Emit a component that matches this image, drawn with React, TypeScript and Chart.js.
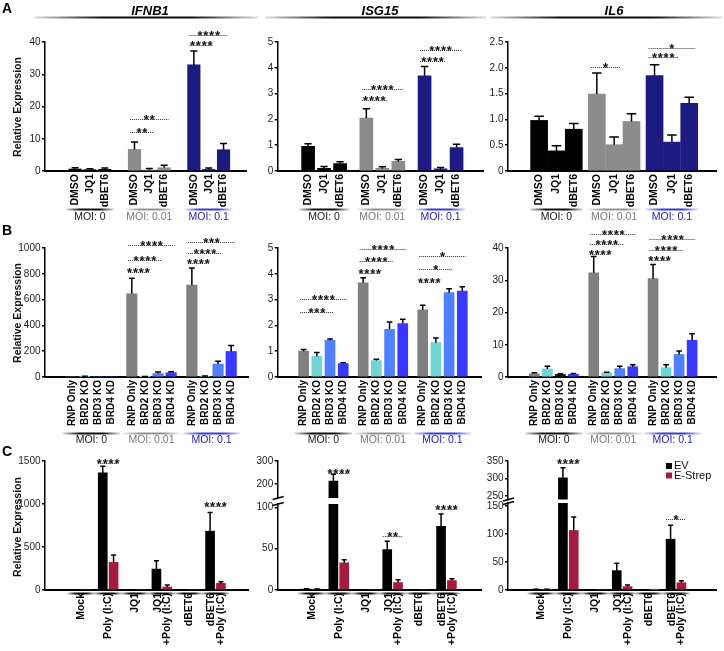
import React, { useEffect, useRef } from 'react';
import { Chart, registerables } from 'chart.js';

Chart.register(...registerables);

const W = 724;
const H = 651;
const FONT = "'Liberation Sans', Arial, Helvetica, sans-serif";

// ---------------- labels ----------------
const GENES = ['IFNB1', 'ISG15', 'IL6'];
const PANEL_LETTERS = ['A', 'B', 'C'];
const MOI_LABELS = ['MOI: 0', 'MOI: 0.01', 'MOI: 0.1'];
const A_CONDITIONS = ['DMSO', 'JQ1', 'dBET6'];
const B_CONDITIONS = ['RNP Only', 'BRD2 KO', 'BRD3 KO', 'BRD4 KD'];
const C_TREATMENTS: string[][] = [['Mock'], ['Poly (I:C)'], ['JQ1'], ['JQ1', '+Poly (I:C)'], ['dBET6'], ['dBET6', '+Poly (I:C)']];
const C_SERIES = ['EV', 'E-Strep'];
const Y_TITLE = 'Relative Expression';

type Sig = [number, number, number, string];
type PairSig = [number, number, string];

// ---------------- row A data ----------------
const IFNB1_A_MEAN = [0.6, 0.4, 0.5, 6.7, 0.3, 1.0, 32.9, 0.5, 6.6];
const IFNB1_A_SD = [0.4, 0.3, 0.4, 2.3, 0.5, 0.8, 4.3, 0.4, 1.9];
const IFNB1_A_TICKS = [0, 10, 20, 30, 40];
const IFNB1_A_SIG: Sig[] = [[3, 4, 12.0, '**'], [3, 5, 16.25, '**'], [6, 7, 39.0, '****'], [6, 8, 42.1, '****']];

const ISG15_A_MEAN = [0.96, 0.1, 0.29, 2.05, 0.1, 0.37, 3.69, 0.08, 0.91];
const ISG15_A_SD = [0.1, 0.07, 0.07, 0.36, 0.06, 0.08, 0.36, 0.06, 0.13];
const ISG15_A_TICKS = [0, 1, 2, 3, 4, 5];
const ISG15_A_SIG: Sig[] = [[3, 4, 2.77, '****'], [3, 5, 3.18, '****'], [6, 7, 4.25, '****'], [6, 8, 4.7, '****']];

const IL6_A_MEAN = [0.98, 0.39, 0.81, 1.49, 0.51, 0.96, 1.85, 0.56, 1.31];
const IL6_A_SD = [0.08, 0.1, 0.11, 0.41, 0.15, 0.15, 0.21, 0.14, 0.12];
const IL6_A_TICKS = [0, 0.5, 1, 1.5, 2, 2.5];
const IL6_A_TICK_LABELS = ['0', '0.5', '1.0', '1.5', '2.0', '2.5'];
const IL6_A_SIG: Sig[] = [[3, 4, 2.02, '*'], [6, 7, 2.2, '****'], [6, 8, 2.39, '*']];

// ---------------- row B data ----------------
const IFNB1_B_MEAN = [0, 4, 0, 0, 645, 2, 27, 33, 712, 5, 100, 198];
const IFNB1_B_SD = [0, 2, 0, 0, 120, 1, 11, 7, 133, 2, 22, 47];
const IFNB1_B_TICKS = [0, 200, 400, 600, 800, 1000];
const IFNB1_B_SIG: Sig[] = [[4, 5, 812, '****'], [4, 6, 910, '****'], [4, 7, 1024, '****'], [8, 9, 885, '****'], [8, 10, 962, '****'], [8, 11, 1049, '***']];

const ISG15_B_MEAN = [1.0, 0.8, 1.42, 0.52, 3.65, 0.64, 1.85, 2.07, 2.6, 1.33, 3.27, 3.33];
const ISG15_B_SD = [0.07, 0.15, 0.05, 0.03, 0.2, 0.05, 0.28, 0.17, 0.18, 0.18, 0.15, 0.17];
const ISG15_B_TICKS = [0, 1, 2, 3, 4, 5];
const ISG15_B_SIG: Sig[] = [[0, 2, 2.53, '***'], [0, 3, 3.02, '****'], [4, 5, 4.05, '****'], [4, 6, 4.51, '****'], [4, 7, 4.97, '****'], [8, 9, 3.7, '****'], [8, 10, 4.18, '*'], [8, 11, 4.7, '*']];

const IL6_B_MEAN = [1.0, 2.5, 0.8, 0.85, 32.3, 1.3, 2.6, 3.2, 30.5, 2.9, 7.0, 11.4];
const IL6_B_SD = [0.3, 0.8, 0.2, 0.2, 5.1, 0.2, 0.7, 0.6, 4.4, 0.9, 1.1, 2.0];
const IL6_B_TICKS = [0, 10, 20, 30, 40];
const IL6_B_SIG: Sig[] = [[4, 5, 38.2, '****'], [4, 6, 41.2, '****'], [4, 7, 44.4, '****'], [8, 9, 36.3, '****'], [8, 10, 39.5, '****'], [8, 11, 42.8, '****']];

// ---------------- row C data ----------------
const IFNB1_C_EV = [0, 1361, 0, 243, 0, 684];
const IFNB1_C_EV_SD = [0, 77, 0, 97, 0, 216];
const IFNB1_C_ES = [0, 321, 0, 35, 0, 77];
const IFNB1_C_ES_SD = [0, 85, 0, 23, 0, 18];
const IFNB1_C_TICKS = [0, 500, 1000, 1500];
const IFNB1_C_SIG: PairSig[] = [[1, 1475, '****'], [5, 975, '****']];

const ISG15_C_EV = [1, 213, 0, 49, 0, 77];
const ISG15_C_EV_SD = [0.5, 30, 0, 10, 0, 15];
const ISG15_C_ES = [1, 33, 0, 9, 0, 11.5];
const ISG15_C_ES_SD = [0.3, 3.5, 0, 3.5, 0, 2];
const ISG15_C_TICKS_LOW = [0, 50, 100];
const ISG15_C_TICKS_HIGH = [200, 300];
const ISG15_C_SIG: PairSig[] = [[1, 250, '****'], [3, 65.6, '**'], [5, 97.5, '****']];

const IL6_C_EV = [1, 302, 0, 34.5, 0, 90.5];
const IL6_C_EV_SD = [0.5, 29, 0, 13, 0, 25];
const IL6_C_ES = [1, 106, 0, 6, 0.5, 13];
const IL6_C_ES_SD = [0.3, 24, 0, 3, 0, 3.5];
const IL6_C_TICKS_LOW = [0, 50, 100, 150];
const IL6_C_TICKS_HIGH = [250, 300, 350];
const IL6_C_SIG: PairSig[] = [[1, 343.5, '****'], [5, 126, '*']];

// ---------------- styles ----------------
const A_GROUP_COLORS = ['#000000', '#8c8c8c', '#1d1a82'];
const B_COND_COLORS = ['#808080', '#72d5d5', '#5080ff', '#3838ff'];
const C_COLORS = ['#000000', '#a31b3d'];
const MOI_TEXT_COLORS = ['#1a1a1a', '#7a7a7a', '#2323b5'];
const MOI_LINE_RGB = [[0, 0, 0], [140, 140, 140], [50, 50, 205]];

interface YSeg { min: number; max: number; top: number; bottom: number; ticks: number[]; labels: string[]; }
interface GroupGeo { axisX: number; right: number; firstPx: number; slot: number; gap: number; barW: number; }
interface PairGeo { axisX: number; right: number; firstPx: number; slot: number; barW: number; pairOff: number; }
interface Spec {
  axisX: number; right: number; seg: YSeg; showX: boolean;
  xMin: number; xMax: number; xTicks: number[]; xLabels: (string | string[])[]; xFont: number; xLine: number;
  datasets: any[];
  draw: (chart: any) => void;
}

const seg = (min: number, max: number, top: number, bottom: number, ticks: number[], labels?: string[]): YSeg =>
  ({ min, max, top, bottom, ticks, labels: labels || ticks.map(String) });

// ---------------- drawing helpers ----------------
function gradLine(ctx: CanvasRenderingContext2D, x1: number, x2: number, y: number, rgb: number[], lw: number) {
  const [r, g, b] = rgb;
  const gr = ctx.createLinearGradient(x1, 0, x2, 0);
  gr.addColorStop(0, `rgba(${r},${g},${b},0.12)`);
  gr.addColorStop(0.3, `rgba(${r},${g},${b},0.95)`);
  gr.addColorStop(0.7, `rgba(${r},${g},${b},0.95)`);
  gr.addColorStop(1, `rgba(${r},${g},${b},0.12)`);
  ctx.save();
  ctx.strokeStyle = gr;
  ctx.lineWidth = lw;
  ctx.beginPath();
  ctx.moveTo(x1, y);
  ctx.lineTo(x2, y);
  ctx.stroke();
  ctx.restore();
}

function drawErrors(chart: any, bars: any[], means: number[], sds: number[]) {
  const ctx = chart.ctx as CanvasRenderingContext2D;
  const ys = chart.scales.y;
  const a = chart.chartArea;
  ctx.save();
  ctx.beginPath();
  ctx.rect(a.left - 20, a.top, a.right - a.left + 40, a.bottom - a.top);
  ctx.clip();
  ctx.strokeStyle = '#000';
  ctx.lineWidth = 1.5;
  bars.forEach((b: any, i: number) => {
    if (!sds[i]) return;
    const y0 = ys.getPixelForValue(means[i]);
    const y1 = ys.getPixelForValue(means[i] + sds[i]);
    const hw = Math.max(2.5, b.width * 0.28);
    ctx.beginPath();
    ctx.moveTo(b.x, y0);
    ctx.lineTo(b.x, y1);
    ctx.moveTo(b.x - hw, y1);
    ctx.lineTo(b.x + hw, y1);
    ctx.stroke();
  });
  ctx.restore();
}

function drawSig(ctx: CanvasRenderingContext2D, x1: number, x2: number, y: number, label: string) {
  ctx.save();
  const yy = Math.round(y) + 0.5;
  ctx.strokeStyle = '#333';
  ctx.lineWidth = 1;
  ctx.setLineDash([1, 1]);
  ctx.beginPath();
  ctx.moveTo(x1, yy);
  ctx.lineTo(x2, yy);
  ctx.stroke();
  ctx.setLineDash([]);
  ctx.fillStyle = '#111';
  ctx.font = `bold 13px ${FONT}`;
  (ctx as any).letterSpacing = '0.8px';
  ctx.textAlign = 'center';
  ctx.textBaseline = 'alphabetic';
  ctx.fillText(label, (x1 + x2) / 2 + 0.4, yy + 4);
  ctx.restore();
}

function drawYTitle(ctx: CanvasRenderingContext2D, cy: number) {
  ctx.save();
  ctx.translate(18, cy);
  ctx.rotate(-Math.PI / 2);
  ctx.font = `bold 10.5px ${FONT}`;
  ctx.fillStyle = '#111';
  ctx.textAlign = 'center';
  ctx.textBaseline = 'middle';
  ctx.fillText(Y_TITLE, 0, 0);
  ctx.restore();
}

function drawPageDecor(ctx: CanvasRenderingContext2D) {
  ctx.save();
  ctx.fillStyle = '#000';
  ctx.font = `bold 14px ${FONT}`;
  ctx.textAlign = 'left';
  ctx.textBaseline = 'alphabetic';
  const letterY = [13, 235, 455.5];
  PANEL_LETTERS.forEach((l, i) => ctx.fillText(l, 2, letterY[i]));
  ctx.font = `italic bold 13px ${FONT}`;
  ctx.textAlign = 'center';
  const titleX = [150, 380, 614];
  GENES.forEach((g, i) => ctx.fillText(g, titleX[i], 14.5));
  ctx.restore();
  const lines = [[35, 258], [265, 486], [490, 722]];
  lines.forEach(([a, b]) => gradLine(ctx, a, b, 17.5, [0, 0, 0], 2));
}

// ---------------- spec builders ----------------
function groupSpec(col: number, geo: GroupGeo, conds: string[], means: number[], sds: number[], colors: string[],
  ys: YSeg, sigs: Sig[], xFont: number, moiLineY: number, moiTextY: number, yTitleY: number): Spec {
  const n = conds.length;
  const pos = means.map((_, i) => Math.floor(i / n) * (n + geo.gap) + (i % n));
  const labels = means.map((_, i) => conds[i % n]);
  return {
    axisX: geo.axisX, right: geo.right, seg: ys, showX: true,
    xMin: (geo.axisX - geo.firstPx) / geo.slot, xMax: (geo.right - geo.firstPx) / geo.slot,
    xTicks: pos, xLabels: labels, xFont, xLine: 1.2,
    datasets: [{
      data: means.map((v, i) => ({ x: pos[i], y: v })),
      backgroundColor: colors, barThickness: geo.barW, borderWidth: 0, clip: 0,
    }],
    draw: (chart: any) => {
      const ctx = chart.ctx as CanvasRenderingContext2D;
      const yScale = chart.scales.y;
      const bars = chart.getDatasetMeta(0).data;
      drawErrors(chart, bars, means, sds);
      sigs.forEach(([f, t, v, lab]) => {
        const bw = bars[f].width;
        drawSig(ctx, bars[f].x - bw * 0.35, bars[t].x + bw * 0.35, yScale.getPixelForValue(v), lab);
      });
      const groups = Math.round(means.length / n);
      for (let g = 0; g < groups; g++) {
        const x1 = bars[g * n].x - 9;
        const x2 = bars[g * n + n - 1].x + 9;
        gradLine(ctx, x1, x2, moiLineY, MOI_LINE_RGB[g], 2);
        ctx.save();
        ctx.fillStyle = MOI_TEXT_COLORS[g];
        ctx.font = `10.5px ${FONT}`;
        ctx.textAlign = 'center';
        ctx.textBaseline = 'middle';
        ctx.fillText(MOI_LABELS[g], (x1 + x2) / 2, moiTextY);
        ctx.restore();
      }
      if (col === 0) drawYTitle(ctx, yTitleY);
    },
  };
}

function pairSpecs(col: number, geo: PairGeo, ev: number[], evSd: number[], es: number[], esSd: number[],
  segs: YSeg[], sigs: PairSig[], legend: boolean): Spec[] {
  const off = geo.pairOff / geo.slot;
  const fs = 10.5;
  const lh = 0.9;
  const shift = (fs * lh / 2) / geo.slot;
  const xTicks = C_TREATMENTS.map((l, i) => i - (l.length - 1) * shift);
  const xMin = (geo.axisX - geo.firstPx) / geo.slot;
  const xMax = (geo.right - geo.firstPx) / geo.slot;
  const makeDatasets = () => [
    { label: C_SERIES[0], data: ev.map((v, i) => ({ x: i - off, y: v })), backgroundColor: C_COLORS[0], barThickness: geo.barW, grouped: false, clip: 0, borderWidth: 0 },
    { label: C_SERIES[1], data: es.map((v, i) => ({ x: i + off, y: v })), backgroundColor: C_COLORS[1], barThickness: geo.barW, grouped: false, clip: 0, borderWidth: 0 },
  ];
  return segs.map((ys, si) => {
    const isBottom = si === 0;
    const broken = segs.length > 1;
    return {
      axisX: geo.axisX, right: geo.right, seg: ys, showX: isBottom,
      xMin, xMax, xTicks, xLabels: C_TREATMENTS, xFont: fs, xLine: lh,
      datasets: makeDatasets(),
      draw: (chart: any) => {
        const ctx = chart.ctx as CanvasRenderingContext2D;
        const yScale = chart.scales.y;
        const evBars = chart.getDatasetMeta(0).data;
        const esBars = chart.getDatasetMeta(1).data;
        drawErrors(chart, evBars, ev, evSd);
        drawErrors(chart, esBars, es, esSd);
        sigs.forEach(([c, v, lab]) => {
          const inThis = !broken || (isBottom ? v < segs[1].min : v >= ys.min);
          if (!inThis) return;
          drawSig(ctx, evBars[c].x - evBars[c].width / 2, esBars[c].x + esBars[c].width / 2, yScale.getPixelForValue(v), lab);
        });
        if (isBottom) {
          C_TREATMENTS.forEach((_, i) => {
            const cx = (evBars[i].x + esBars[i].x) / 2;
            gradLine(ctx, cx - 14, cx + 14, ys.bottom + 3.5, [0, 0, 0], 2);
          });
          if (col === 0) drawYTitle(ctx, 527);
          if (broken) {
            ctx.save();
            ctx.strokeStyle = '#000';
            ctx.lineWidth = 1.4;
            [segs[1].bottom, ys.top].forEach((yb) => {
              ctx.beginPath();
              ctx.moveTo(geo.axisX - 5, yb + 1.5);
              ctx.lineTo(geo.axisX + 6, yb - 1.5);
              ctx.stroke();
            });
            ctx.restore();
          }
          if (legend) {
            ctx.save();
            chart.data.datasets.forEach((ds: any, i: number) => {
              const y0 = 463 + i * 9.5;
              ctx.fillStyle = ds.backgroundColor;
              ctx.fillRect(666, y0, 6, 6);
              ctx.fillStyle = '#111';
              ctx.font = `11px ${FONT}`;
              ctx.textAlign = 'left';
              ctx.textBaseline = 'middle';
              ctx.fillText(ds.label, 674, y0 + 3.3);
            });
            ctx.restore();
          }
        }
      },
    };
  });
}

// ---------------- layout ----------------
const GEO_A: GroupGeo[] = [
  { axisX: 45, right: 246, firstPx: 66.3, slot: 16.7, gap: 1, barW: 12.5 },
  { axisX: 277.7, right: 484, firstPx: 299, slot: 18, gap: 0.64, barW: 13 },
  { axisX: 508, right: 716, firstPx: 530, slot: 19.5, gap: 0.33, barW: 17 },
];
const GEO_B: GroupGeo[] = [
  { axisX: 45, right: 248, firstPx: 65, slot: 14.3, gap: 0.58, barW: 10.5 },
  { axisX: 277.7, right: 482, firstPx: 296.7, slot: 14.4, gap: 0.51, barW: 10 },
  { axisX: 508, right: 716, firstPx: 527.3, slot: 14.2, gap: 0.56, barW: 10 },
];
const GEO_C: PairGeo[] = [
  { axisX: 45, right: 248, firstPx: 68.3, slot: 32.2, barW: 9, pairOff: 6.5 },
  { axisX: 277.7, right: 482, firstPx: 298.3, slot: 32.3, barW: 9, pairOff: 6.5 },
  { axisX: 508, right: 716, firstPx: 527.3, slot: 32.3, barW: 9, pairOff: 6.5 },
];

const aColors = (n: number) => Array.from({ length: n }, (_, i) => A_GROUP_COLORS[Math.floor(i / 3)]);
const bColors = (n: number) => Array.from({ length: n }, (_, i) => B_COND_COLORS[i % 4]);
const il6BColors = bColors(12).map((c, i) => (i === 2 ? '#111111' : c));

const SPECS: Spec[] = [
  groupSpec(0, GEO_A[0], A_CONDITIONS, IFNB1_A_MEAN, IFNB1_A_SD, aColors(9), seg(0, 40, 42, 171, IFNB1_A_TICKS), IFNB1_A_SIG, 10.5, 209.5, 217, 107),
  groupSpec(1, GEO_A[1], A_CONDITIONS, ISG15_A_MEAN, ISG15_A_SD, aColors(9), seg(0, 5, 42, 171, ISG15_A_TICKS), ISG15_A_SIG, 10.5, 209.5, 217, 107),
  groupSpec(2, GEO_A[2], A_CONDITIONS, IL6_A_MEAN, IL6_A_SD, aColors(9), seg(0, 2.5, 42, 171, IL6_A_TICKS, IL6_A_TICK_LABELS), IL6_A_SIG, 10.5, 209.5, 217, 107),
  groupSpec(0, GEO_B[0], B_CONDITIONS, IFNB1_B_MEAN, IFNB1_B_SD, bColors(12), seg(0, 1000, 248, 377, IFNB1_B_TICKS), IFNB1_B_SIG, 10, 433.5, 440.5, 313),
  groupSpec(1, GEO_B[1], B_CONDITIONS, ISG15_B_MEAN, ISG15_B_SD, bColors(12), seg(0, 5, 248, 377, ISG15_B_TICKS), ISG15_B_SIG, 10, 433.5, 440.5, 313),
  groupSpec(2, GEO_B[2], B_CONDITIONS, IL6_B_MEAN, IL6_B_SD, il6BColors, seg(0, 40, 248, 377, IL6_B_TICKS), IL6_B_SIG, 10, 433.5, 440.5, 313),
  ...pairSpecs(0, GEO_C[0], IFNB1_C_EV, IFNB1_C_EV_SD, IFNB1_C_ES, IFNB1_C_ES_SD, [seg(0, 1500, 461, 590, IFNB1_C_TICKS)], IFNB1_C_SIG, false),
  ...pairSpecs(1, GEO_C[1], ISG15_C_EV, ISG15_C_EV_SD, ISG15_C_ES, ISG15_C_ES_SD,
    [seg(0, 104, 504, 590, ISG15_C_TICKS_LOW), seg(140, 300, 461, 498, ISG15_C_TICKS_HIGH)], ISG15_C_SIG, false),
  ...pairSpecs(2, GEO_C[2], IL6_C_EV, IL6_C_EV_SD, IL6_C_ES, IL6_C_ES_SD,
    [seg(0, 155, 503, 590, IL6_C_TICKS_LOW), seg(240, 350, 461, 499.5, IL6_C_TICKS_HIGH)], IL6_C_SIG, true),
];

const YW = 40;
const XH = 60;

function makeConfig(spec: Spec, withDecor: boolean): any {
  return {
    type: 'bar',
    data: { datasets: spec.datasets },
    options: {
      responsive: false,
      animation: false,
      devicePixelRatio: 1,
      events: [],
      layout: {
        padding: {
          left: spec.axisX - YW,
          right: W - spec.right,
          top: spec.seg.top,
          bottom: spec.showX ? Math.max(0, H - spec.seg.bottom - XH) : H - spec.seg.bottom,
        },
      },
      plugins: { legend: { display: false }, tooltip: { enabled: false }, title: { display: false } },
      scales: {
        x: {
          type: 'linear', bounds: 'data', min: spec.xMin, max: spec.xMax, display: spec.showX,
          grid: { display: false, drawTicks: false },
          border: { display: true, color: '#000', width: 2 },
          afterBuildTicks: (s: any) => { s.ticks = spec.xTicks.map((v) => ({ value: v })); },
          afterFit: (s: any) => { s.height = spec.showX ? Math.min(XH, H - spec.seg.bottom) : 0; },
          ticks: {
            autoSkip: false, minRotation: 90, maxRotation: 90, padding: 3, color: '#000',
            font: { family: FONT, size: spec.xFont, weight: 'bold', lineHeight: spec.xLine },
            callback: (_v: any, i: number) => spec.xLabels[i],
          },
        },
        y: {
          type: 'linear', bounds: 'data', min: spec.seg.min, max: spec.seg.max,
          grid: { display: true, drawOnChartArea: false, drawTicks: true, tickLength: 3, color: '#000', lineWidth: 1.5 },
          border: { display: true, color: '#000', width: 1.5 },
          afterBuildTicks: (s: any) => { s.ticks = spec.seg.ticks.map((v) => ({ value: v })); },
          afterFit: (s: any) => { s.width = YW; },
          ticks: {
            autoSkip: false, padding: 1.5, color: '#222',
            font: { family: FONT, size: 10 },
            callback: (_v: any, i: number) => spec.seg.labels[i],
          },
        },
      },
    },
    plugins: [{
      id: 'overlay',
      afterDraw: (chart: any) => {
        spec.draw(chart);
        if (withDecor) drawPageDecor(chart.ctx);
      },
    }],
  };
}

export default function App() {
  const refs = useRef<(HTMLCanvasElement | null)[]>([]);
  useEffect(() => {
    const charts = SPECS.map((s, i) => new Chart(refs.current[i] as HTMLCanvasElement, makeConfig(s, i === 0)));
    return () => charts.forEach((c) => c.destroy());
  }, []);
  return (
    <div style={{ position: 'fixed', left: 0, top: 0, width: W, height: H, background: '#fff', overflow: 'hidden' }}>
      {SPECS.map((_, i) => (
        <canvas
          key={i}
          ref={(el) => { refs.current[i] = el; }}
          width={W}
          height={H}
          style={{ position: 'absolute', left: 0, top: 0 }}
        />
      ))}
    </div>
  );
}
